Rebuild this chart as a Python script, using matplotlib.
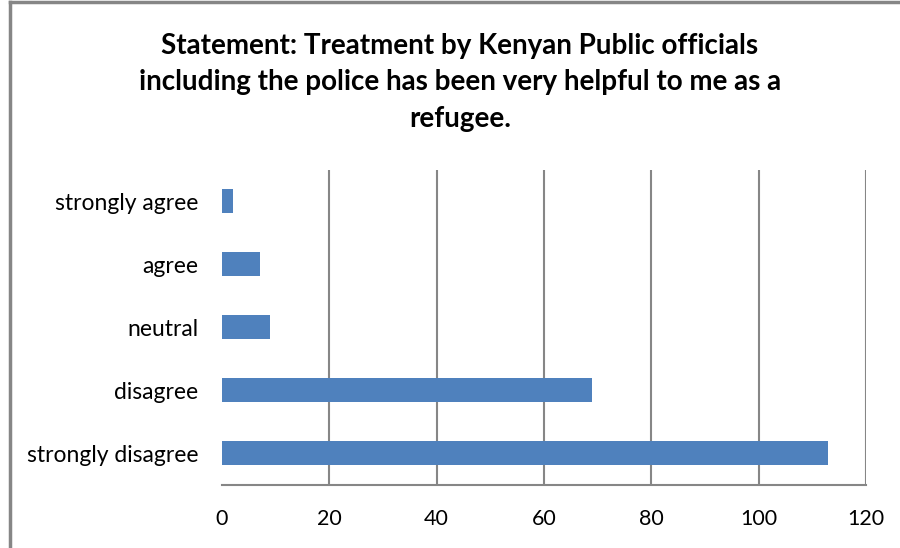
import matplotlib.pyplot as plt
from matplotlib.lines import Line2D

categories = ["strongly disagree", "disagree", "neutral", "agree", "strongly agree"]
counts = [113, 69, 9, 7, 2]
xticks = [0, 20, 40, 60, 80, 100, 120]

title = ("Statement: Treatment by Kenyan Public officials\n"
         "including the police has been very helpful to me as a\n"
         "refugee.")

plt.rcParams['font.family'] = ['Lato', 'DejaVu Sans']

fig = plt.figure(figsize=(9, 5.48), dpi=100)
ax = fig.add_axes([0.2467, 0.115, 0.7155, 0.575])

ax.barh(categories, counts, height=0.38, color='#4F81BD', zorder=3)
ax.set_xlim(0, 120)
ax.set_ylim(-0.5, len(categories) - 0.5)
ax.set_xticks(xticks)
ax.set_xticklabels([str(t) for t in xticks], fontsize=15.5)
ax.tick_params(axis='y', labelsize=16.5, length=0, pad=17)
ax.tick_params(axis='x', length=0, pad=17)

for t in xticks[1:]:
    ax.axvline(t, color='#868686', lw=1.5, zorder=1)

for s in ['left', 'top', 'right']:
    ax.spines[s].set_visible(False)
ax.spines['bottom'].set_color('#868686')
ax.spines['bottom'].set_linewidth(1.5)

fig.text(0.511, 0.94, title, ha='center', va='top', fontsize=20,
         fontweight='bold', linespacing=1.5)

# outer chart border (left and top edges visible)
fig.add_artist(Line2D([0.011, 0.011], [0, 0.997], color='#868686', lw=2.5,
                      transform=fig.transFigure))
fig.add_artist(Line2D([0.011, 1.0], [0.997, 0.997], color='#868686', lw=2.5,
                      transform=fig.transFigure))

fig.savefig('out.png', dpi=100)
